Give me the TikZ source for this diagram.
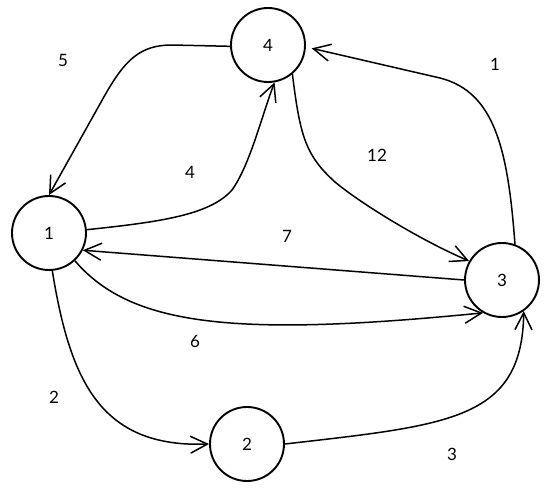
\documentclass[tikz,border=0pt]{standalone}
\usepackage{fontspec}
\setmainfont{Lato}
\usetikzlibrary{arrows.meta}
\tikzset{
  vertex/.style={draw, circle, line width=1.9pt, minimum size=74pt, inner sep=0pt, font=\fontsize{17}{17}\selectfont},
  edge/.style={line width=1.5pt, line cap=round, line join=round, -{Straight Barb[length=17pt,width=17pt,line width=1.5pt]}},
  wlabel/.style={font=\fontsize{17}{17}\selectfont, inner sep=0pt}
}
\begin{document}
\begin{tikzpicture}[x=1pt, y=-1pt]
\useasboundingbox (0,0) rectangle (550,490);
\node[vertex] (n4) at (268,45) {4};
\node[vertex] (n1) at (49,233) {1};
\node[vertex] (n3) at (502,280) {3};
\node[vertex] (n2) at (247,444) {2};

% 4 -> 1
\draw[edge] (n4.182) -- (172,45) .. controls (140,45) and (125,60) .. (105,95) -- (n1.north);
% 1 -> 4
\draw[edge] (n1.5) .. controls (160,222) and (210,215) .. (232,190) .. controls (250,165) and (262,115) .. (n4.-80);
% 4 -> 3
\draw[edge] (n4.-50) .. controls (300,135) and (305,155) .. (335,182) .. controls (360,203) and (420,240) .. (n3.150);
% 3 -> 4
\draw[edge, shorten >=6pt] (n3.70) .. controls (508,150) and (495,92) .. (440,78) -- (n4.-3);
% 3 -> 1
\draw[edge] (n3.west) -- (n1.-27);
% 1 -> 3
\draw[edge] (n1.-47) .. controls (130,325) and (230,338) .. (n3.-120);
% 1 -> 2
\draw[edge] (n1.-85) .. controls (70,380) and (100,448) .. (n2.west);
% 2 -> 3
\draw[edge] (n2.east) .. controls (450,425) and (522,420) .. (n3.-55);

\node[wlabel] (l5) at (63,60) {5};
\node[wlabel] (l4) at (190,172) {4};
\node[wlabel] (l12) at (377,155) {12};
\node[wlabel] (l1) at (495,64) {1};
\node[wlabel] (l7) at (287,236) {7};
\node[wlabel] (l6) at (195,341) {6};
\node[wlabel] (l2) at (54,397) {2};
\node[wlabel] (l3) at (452,454) {3};
\end{tikzpicture}
\end{document}
